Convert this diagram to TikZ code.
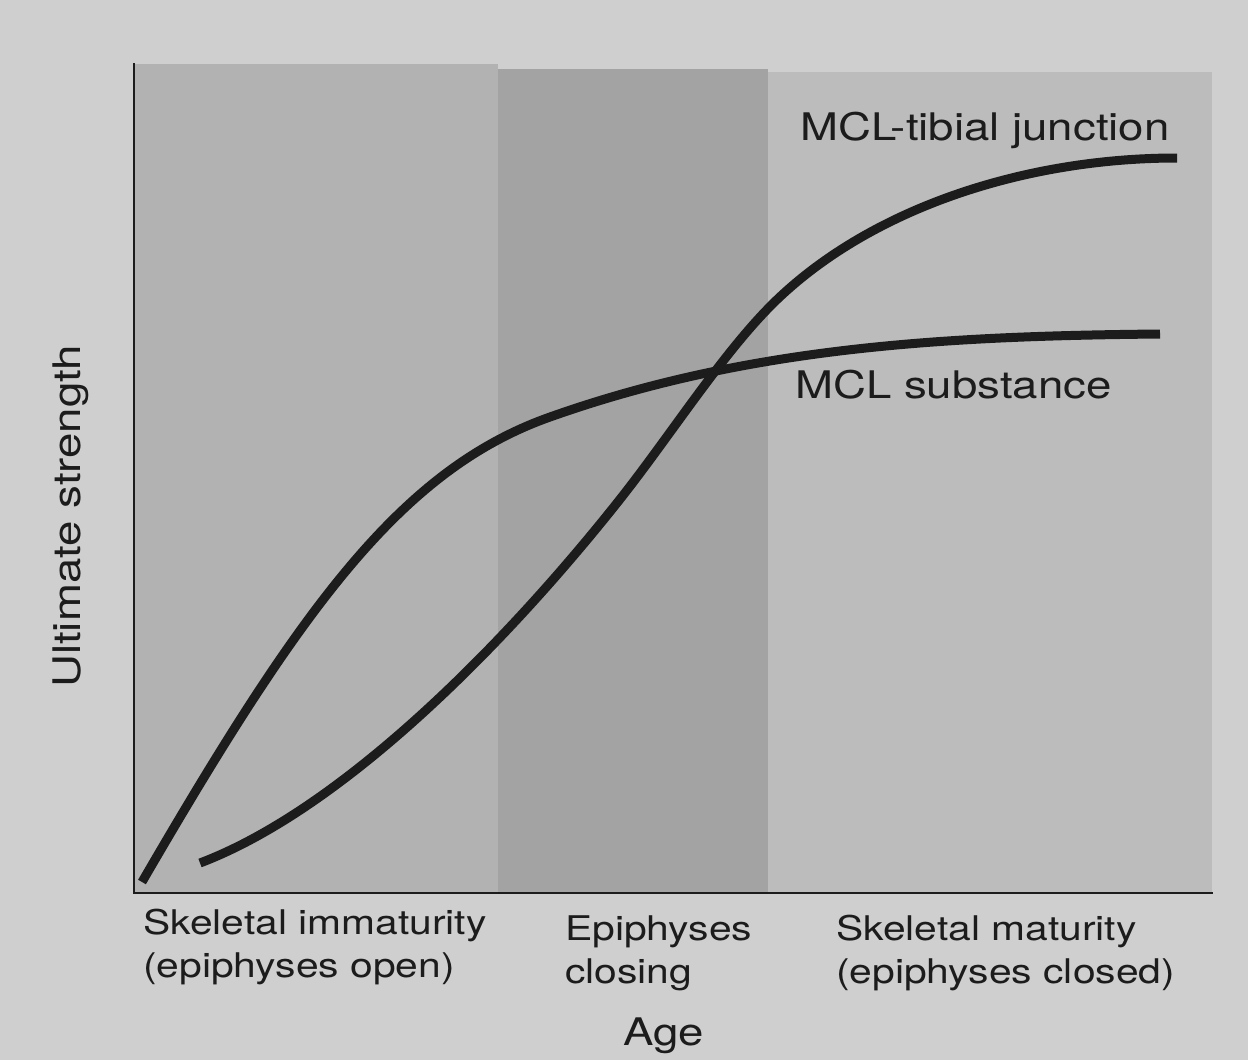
\documentclass[tikz,border=0pt]{standalone}
\usepackage{fontspec}
\setmainfont{TeX Gyre Heros}[FakeStretch=1.2]
\begin{document}
\begin{tikzpicture}[x=1pt,y=-1pt,
  lbl/.style={inner sep=0pt,anchor=base west,text=ink},
  curve/.style={line width=9pt,draw=ink,line join=round}]
\definecolor{bg}{RGB}{207,207,207}
\definecolor{bandA}{RGB}{178,178,178}
\definecolor{bandB}{RGB}{163,163,163}
\definecolor{bandC}{RGB}{188,188,188}
\definecolor{ink}{RGB}{28,28,28}
\useasboundingbox (0,0) rectangle (1248,1060);
\fill[bg] (0,0) rectangle (1248,1060);
% bands
\fill[bandA] (134,64) rectangle (498,893);
\fill[bandB] (498,69) rectangle (768,893);
\fill[bandC] (768,72) rectangle (1212,893);
% axes
\coordinate (O) at (134,893);
\coordinate (Ytop) at (134,63);
\coordinate (Xend) at (1213,893);
\draw[ink,line width=2.5pt] (Ytop) -- (O) -- (Xend);
% MCL substance
\coordinate (s0) at (142,882);
\coordinate (s1) at (550,417);
\coordinate (s2) at (1160,334);
\draw[curve] (s0) .. controls (300,610) and (400,470) .. (s1)
              .. controls (750,346) and (950,336) .. (s2);
% MCL-tibial junction
\coordinate (t0) at (200,863);
\coordinate (t1) at (617,503);
\coordinate (t2) at (783,294);
\coordinate (t3) at (1177,158);
\draw[curve] (t0) .. controls (340,810) and (500,650) .. (t1)
              .. controls (672,434) and (728,344) .. (t2)
              .. controls (880,205) and (1030,158) .. (t3);
% labels
\node[lbl,font=\fontsize{38}{44}\selectfont] (tib) at (800,140) {MCL-tibial junction};
\node[lbl,font=\fontsize{38}{44}\selectfont] (sub) at (795,398) {MCL substance};
\node[lbl,font=\fontsize{38}{44}\selectfont,rotate=90] (ylab) at (80,688) {Ultimate strength};
\node[lbl,font=\fontsize{34}{40}\selectfont] (l1a) at (143,934) {Skeletal immaturity};
\node[lbl,font=\fontsize{34}{40}\selectfont] (l1b) at (143,977) {(epiphyses open)};
\node[lbl,font=\fontsize{34}{40}\selectfont] (l2a) at (565,940) {Epiphyses};
\node[lbl,font=\fontsize{34}{40}\selectfont] (l2b) at (565,983) {closing};
\node[lbl,font=\fontsize{34}{40}\selectfont] (l3a) at (836,940) {Skeletal maturity};
\node[lbl,font=\fontsize{34}{40}\selectfont] (l3b) at (836,983) {(epiphyses closed)};
\node[lbl,font=\fontsize{38}{44}\selectfont] (age) at (623,1045) {Age};
\end{tikzpicture}
\end{document}
